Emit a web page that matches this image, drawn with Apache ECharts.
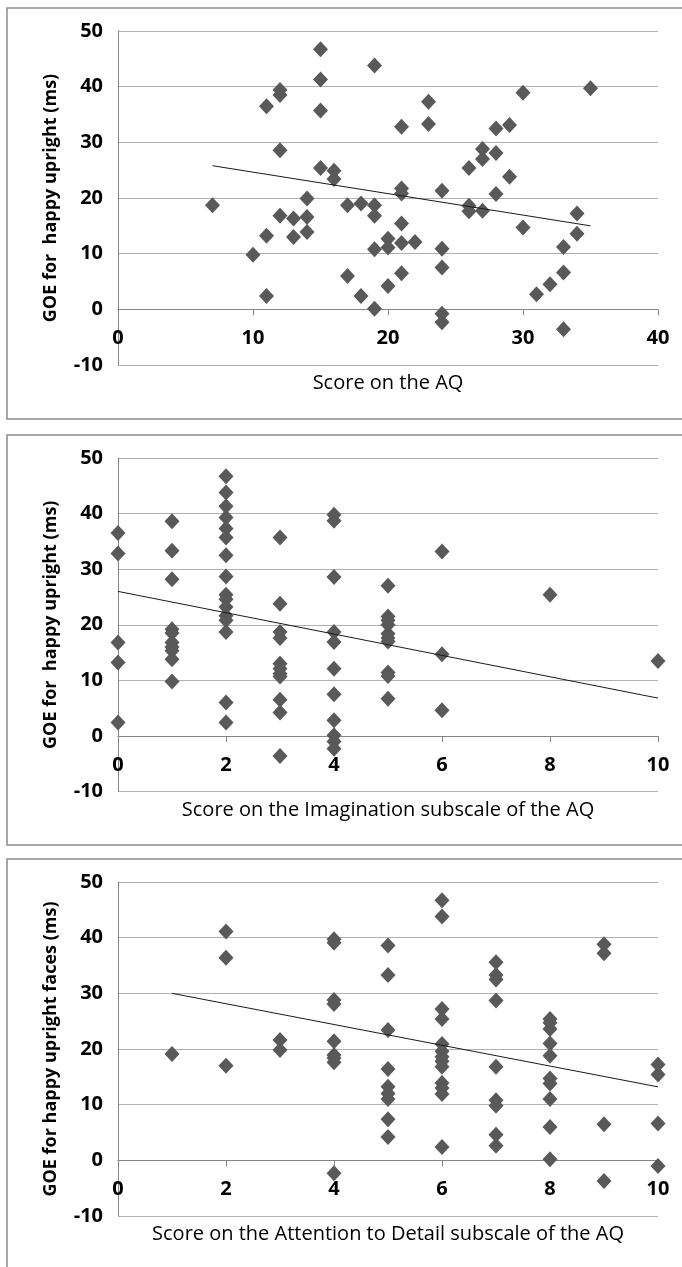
<!DOCTYPE html>
<html>
<head>
<meta charset="utf-8">
<script src="https://cdn.jsdelivr.net/npm/echarts@6/dist/echarts.min.js"></script>
<style>
  html, body { margin: 0; padding: 0; background: #ffffff; }
  #chart { width: 682px; height: 1267px; }
</style>
</head>
<body>
<div id="chart"></div>
<script>
// Gaze-orienting effect (GOE, ms) for happy upright faces against AQ scores.

// Total AQ score vs GOE
const aqTotalPoints = [
  [7, 18.7], [10, 9.8], [11, 36.5], [11, 13.2], [11, 2.4],
  [12, 39.4], [12, 38.5], [12, 28.6], [12, 16.8], [13, 16.3], [13, 13.0],
  [14, 19.9], [14, 16.6], [14, 13.9], [15, 46.7], [15, 41.3], [15, 35.7], [15, 25.4],
  [16, 24.9], [16, 23.4], [17, 18.7], [17, 6.0], [18, 19.0], [18, 2.4],
  [19, 43.8], [19, 18.7], [19, 16.8], [19, 10.8], [19, 0.1],
  [20, 12.7], [20, 11.1], [20, 4.2],
  [21, 32.8], [21, 21.7], [21, 20.8], [21, 15.4], [21, 11.9], [21, 6.5],
  [22, 12.1], [23, 37.3], [23, 33.3],
  [24, 21.3], [24, 10.9], [24, 7.5], [24, -0.8], [24, -2.3],
  [26, 25.4], [26, 18.6], [26, 17.6], [27, 28.8], [27, 27.0], [27, 17.7],
  [28, 32.5], [28, 28.1], [28, 20.7], [29, 33.1], [29, 23.8],
  [30, 38.9], [30, 14.7], [31, 2.7], [32, 4.5],
  [33, 11.2], [33, 6.6], [33, -3.6], [34, 17.2], [34, 13.6], [35, 39.7]
];
const aqTotalTrend = [[7, 25.8], [35, 15.0]];

// Imagination subscale vs GOE
const imaginationPoints = [
  [0, 36.5], [0, 32.8], [0, 16.8], [0, 13.2], [0, 2.4],
  [1, 38.6], [1, 33.3], [1, 28.2], [1, 19.2], [1, 18.5], [1, 16.8], [1, 16.0], [1, 15.3], [1, 13.8], [1, 9.8],
  [2, 46.7], [2, 43.8], [2, 41.3], [2, 39.3], [2, 37.3], [2, 35.7], [2, 32.5], [2, 28.7],
  [2, 25.4], [2, 24.6], [2, 23.2], [2, 21.6], [2, 20.8], [2, 18.7], [2, 6.0], [2, 2.4],
  [3, 35.7], [3, 23.8], [3, 18.7], [3, 17.6], [3, 13.0], [3, 12.1], [3, 11.2], [3, 10.7], [3, 6.5], [3, 4.2], [3, -3.6],
  [4, 39.8], [4, 38.7], [4, 28.6], [4, 18.7], [4, 16.9], [4, 12.1], [4, 7.5], [4, 2.8], [4, 0.1], [4, -1.0], [4, -2.3],
  [5, 27.0], [5, 21.5], [5, 20.8], [5, 20.0], [5, 18.4], [5, 17.6], [5, 17.0], [5, 11.4], [5, 10.8], [5, 6.7],
  [6, 33.2], [6, 14.7], [6, 4.6],
  [8, 25.4], [10, 13.5]
];
const imaginationTrend = [[0, 26.0], [10, 6.8]];

// Attention to Detail subscale vs GOE
const attentionPoints = [
  [1, 19.1],
  [2, 41.1], [2, 36.4], [2, 17.0],
  [3, 21.6], [3, 19.8],
  [4, 39.7], [4, 39.1], [4, 28.8], [4, 28.1], [4, 21.4], [4, 18.9], [4, 18.4], [4, 17.6], [4, -2.3],
  [5, 38.6], [5, 33.3], [5, 23.4], [5, 16.4], [5, 13.2], [5, 12.0], [5, 11.0], [5, 7.4], [5, 4.2],
  [6, 46.7], [6, 43.8], [6, 27.2], [6, 25.4], [6, 20.9], [6, 19.6], [6, 18.6], [6, 17.8], [6, 16.8],
  [6, 13.9], [6, 13.0], [6, 11.9], [6, 2.4],
  [7, 35.6], [7, 33.3], [7, 32.5], [7, 28.7], [7, 16.8], [7, 10.8], [7, 9.8], [7, 4.6], [7, 2.6],
  [8, 25.4], [8, 24.7], [8, 23.6], [8, 21.0], [8, 18.8], [8, 14.7], [8, 13.8], [8, 11.0], [8, 6.0], [8, 0.2],
  [9, 38.8], [9, 37.2], [9, 6.5], [9, -3.7],
  [10, 17.2], [10, 15.4], [10, 6.6], [10, -1.0]
];
const attentionTrend = [[1, 30.0], [10, 13.2]];

// Axis ranges and titles
const xRanges = [[0, 40, 10], [0, 10, 2], [0, 10, 2]];
const yRange = [-10, 50, 10];
const xTitles = ['Score on the AQ', 'Score on the Imagination subscale of the AQ', 'Score on the Attention to Detail subscale of the AQ'];
const yTitles = ['GOE for  happy upright (ms)', 'GOE for  happy upright (ms)', 'GOE for happy upright faces (ms)'];

const FONT = "'Open Sans', 'Noto Sans', sans-serif";
const AXIS_GREY = '#868686';
const GRID_GREY = '#b0b0b0';
const MARK_GREY = '#595959';

// Layout of the three stacked panels
const panels = [
  { gridTop: 31, gridHeight: 334, boxTop: 8, boxHeight: 411, points: aqTotalPoints, trend: aqTotalTrend },
  { gridTop: 458, gridHeight: 333.5, boxTop: 435, boxHeight: 410, points: imaginationPoints, trend: imaginationTrend },
  { gridTop: 882, gridHeight: 334, boxTop: 859, boxHeight: 500, points: attentionPoints, trend: attentionTrend }
];

const grid = [], xAxis = [], yAxis = [], series = [], graphic = [];

panels.forEach((p, i) => {
  grid.push({ left: 118, top: p.gridTop, width: 540, height: p.gridHeight, containLabel: false });

  // the x axis crosses the y axis at zero: lift it from the grid bottom by the
  // height of the span between yRange[0] and 0
  const zeroLift = p.gridHeight * (0 - yRange[0]) / (yRange[1] - yRange[0]);

  xAxis.push({
    type: 'value', gridIndex: i, position: 'bottom',
    offset: -zeroLift,
    min: xRanges[i][0], max: xRanges[i][1], interval: xRanges[i][2],
    axisLine: { show: true, onZero: false, lineStyle: { color: AXIS_GREY, width: 1 } },
    axisTick: { show: true, inside: false, length: 6, lineStyle: { color: AXIS_GREY } },
    axisLabel: { show: true, margin: 19, color: '#000', fontFamily: FONT, fontSize: 20, fontWeight: 'bold' },
    splitLine: { show: false },
    name: xTitles[i], nameLocation: 'middle', nameGap: 64, nameMoveOverlap: false,
    nameTextStyle: { color: '#000', fontFamily: FONT, fontSize: 20, fontWeight: 'normal' }
  });

  yAxis.push({
    type: 'value', gridIndex: i,
    min: yRange[0], max: yRange[1], interval: yRange[2],
    axisLine: { show: true, onZero: false, lineStyle: { color: AXIS_GREY, width: 1 } },
    axisTick: { show: false },
    axisLabel: { show: true, margin: 15, color: '#000', fontFamily: FONT, fontSize: 20, fontWeight: 'bold' },
    splitLine: { show: true, lineStyle: { color: GRID_GREY, width: 1 } },
    name: yTitles[i], nameLocation: 'middle', nameGap: 58, nameRotate: 90, nameMoveOverlap: false,
    nameTextStyle: { color: '#000', fontFamily: FONT, fontSize: 18, fontWeight: 'bold' }
  });

  series.push({
    type: 'scatter', xAxisIndex: i, yAxisIndex: i,
    data: p.points,
    symbol: 'diamond', symbolSize: [15, 16],
    itemStyle: { color: MARK_GREY, opacity: 1 },
    z: 2
  });

  series.push({
    type: 'line', xAxisIndex: i, yAxisIndex: i,
    data: p.trend,
    showSymbol: false, symbol: 'none',
    lineStyle: { color: '#1a1a1a', width: 1 },
    silent: true,
    z: 3
  });

  graphic.push({
    type: 'rect',
    shape: { x: 7, y: p.boxTop, width: 700, height: p.boxHeight },
    style: { fill: 'none', stroke: '#8a8a8a', lineWidth: 1.5 },
    silent: true,
    z: 0
  });
});

const chart = echarts.init(document.getElementById('chart'), null, { renderer: 'canvas' });
chart.setOption({
  backgroundColor: '#ffffff',
  animation: false,
  textStyle: { fontFamily: FONT },
  grid, xAxis, yAxis, series, graphic
});
</script>
</body>
</html>
